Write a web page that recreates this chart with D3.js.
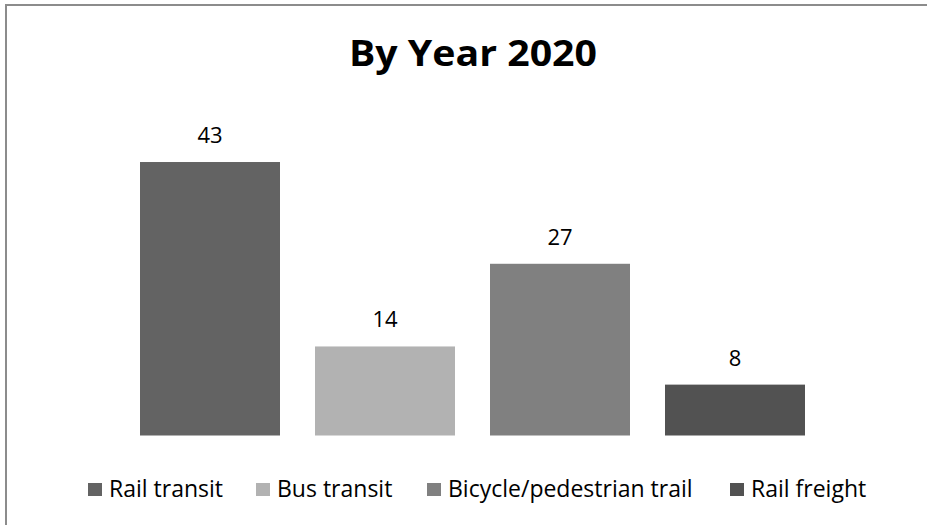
<!DOCTYPE html>
<meta charset="utf-8">
<style>
body { margin: 0; background: #fff; }
text { font-family: "Open Sans", sans-serif; fill: #000; }
</style>
<svg width="927" height="525"></svg>
<script src="https://d3js.org/d3.v7.min.js"></script>
<script>

var categories = ["Rail transit", "Bus transit", "Bicycle/pedestrian trail", "Rail freight"];
var values = [43, 14, 27, 8];
var colors = ["#636363", "#b2b2b2", "#808080", "#525252"];
var title = "By Year 2020";

var svg = d3.select("svg");

// chart frame: only top and left edges fall inside the picture
svg.append("path")
    .attr("d", "M6,530V5H930")
    .attr("fill", "none")
    .attr("stroke", "#8c8c8c")
    .attr("stroke-width", 2);

svg.append("text")
    .attr("x", 473)
    .attr("y", 66)
    .attr("text-anchor", "middle")
    .style("font-size", "35px")
    .style("font-weight", "bold")
    .attr("textLength", 248)
    .attr("lengthAdjust", "spacingAndGlyphs")
    .text(title);

var x = d3.scaleBand()
    .domain(categories)
    .range([122.5, 822.5])
    .paddingInner(0.2)
    .paddingOuter(0.1);

var y = d3.scaleLinear()
    .domain([0, 50])
    .range([435.5, 117.5]);

var bars = svg.append("g").selectAll("g")
    .data(categories)
    .enter().append("g");

bars.append("rect")
    .attr("x", function(d) { return x(d); })
    .attr("y", function(d, i) { return y(values[i]); })
    .attr("width", x.bandwidth())
    .attr("height", function(d, i) { return y(0) - y(values[i]); })
    .attr("fill", function(d, i) { return colors[i]; });

bars.append("text")
    .attr("x", function(d) { return x(d) + x.bandwidth() / 2; })
    .attr("y", function(d, i) { return y(values[i]) - 19; })
    .attr("text-anchor", "middle")
    .style("font-size", "22px")
    .text(function(d, i) { return values[i]; });

// legend
var legendX = [88, 256, 427, 730];
var legend = svg.append("g").selectAll("g")
    .data(categories)
    .enter().append("g")
      .attr("transform", function(d, i) { return "translate(" + legendX[i] + ",483)"; });

legend.append("rect")
    .attr("width", 14)
    .attr("height", 13)
    .attr("fill", function(d, i) { return colors[i]; });

legend.append("text")
    .attr("x", 21)
    .attr("y", 14)
    .style("font-size", "23px")
    .text(function(d) { return d; });

</script>
